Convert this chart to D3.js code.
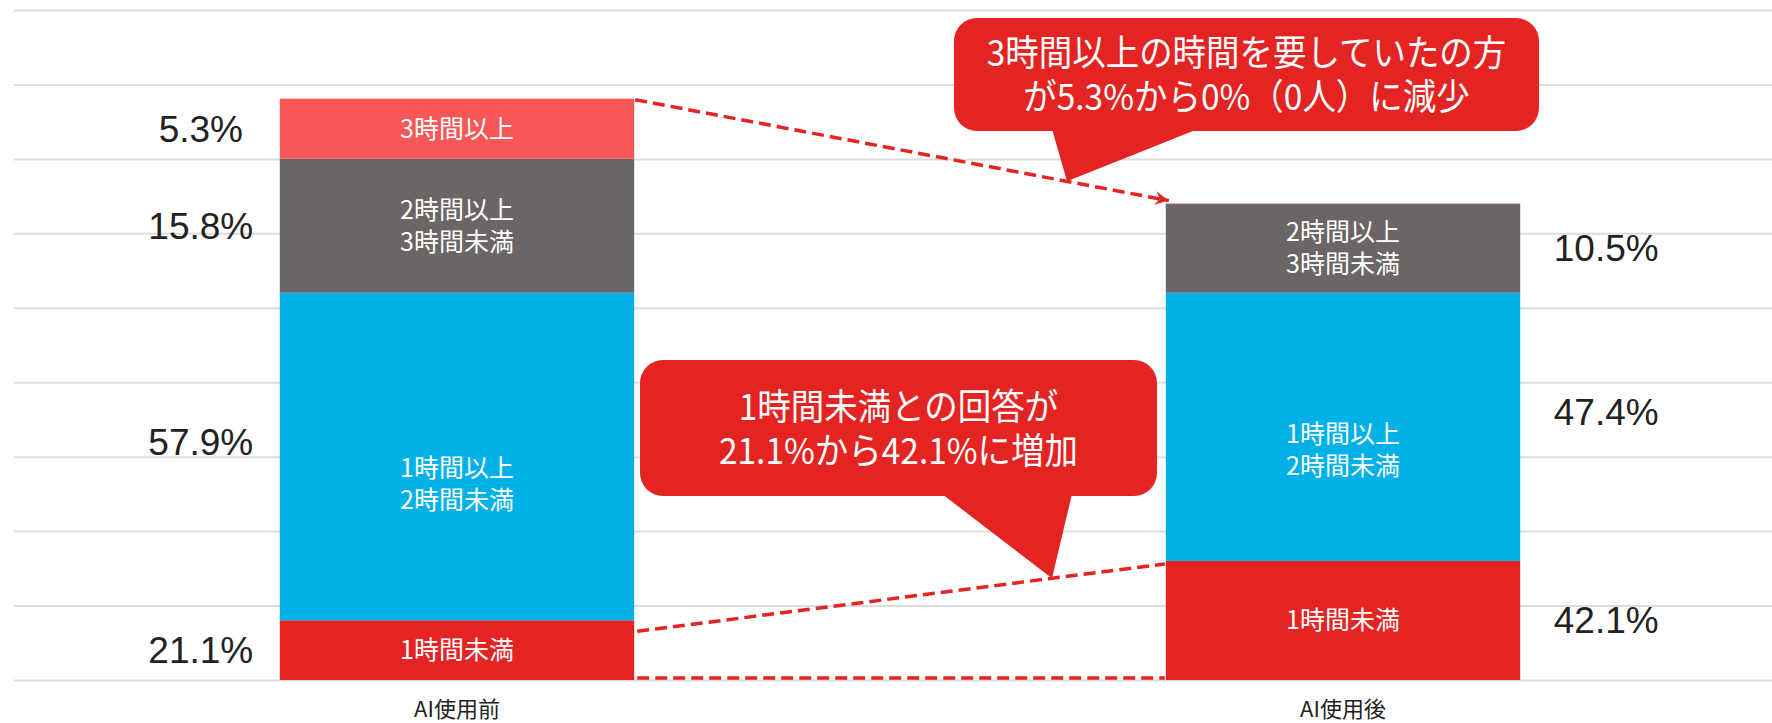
<!DOCTYPE html>
<html lang="ja">
<head>
<meta charset="utf-8">
<script src="https://cdn.jsdelivr.net/npm/d3@7"></script>
<style>
  html, body { margin: 0; padding: 0; background: #fff; }
  svg { display: block; }
</style>
</head>
<body>
<svg id="chart" width="1772" height="723"></svg>
<script>
// Time spent per task, before and after introducing AI.
// Bar segments show respondent-hours: share of respondents x hour band weight.
const periods = ['AI使用前', 'AI使用後'];
const bandLabels = ['1時間未満', '1時間以上\n2時間未満', '2時間以上\n3時間未満', '3時間以上'];
const hourWeights = [1, 2, 3, 4];
const shareBefore = [21.1, 57.9, 15.8, 5.3];
const shareAfter = [42.1, 47.4, 10.5, 0];
const respondents = 19;
const gridTicks = [0, 5, 10, 15, 20, 25, 30, 35, 40, 45];
const bandColors = ['#E42323', '#00B1E8', '#6B6665', '#F75757'];

const calloutTop = ['3時間以上の時間を要していたの方', 'が5.3%から0%（0人）に減少'];
const calloutBottom = ['1時間未満との回答が', '21.1%から42.1%に増加'];

const W = 1772, H = 723;
const svg = d3.select('#chart');
const CJK = '"Noto Sans CJK JP", "Noto Sans", sans-serif';
const LATIN = '"Liberation Sans", Arial, sans-serif';
const RED = '#E42323';

const x = d3.scaleBand().domain(periods).range([14, 1786]).paddingInner(0.6).paddingOuter(0.3);
const y = d3.scaleLinear().domain([0, 45]).range([680, 10]);

// horizontal gridlines
const grid = svg.append('g').attr('transform', 'translate(14,0)')
  .call(d3.axisLeft(y).tickValues(gridTicks).tickSize(-(W - 14)).tickFormat(''));
grid.select('.domain').remove();
grid.selectAll('.tick line').attr('stroke', '#dcdcdc').attr('stroke-width', 2);

// stacked segments
const shares = [shareBefore, shareAfter];
const segments = [];
periods.forEach((p, pi) => {
  let acc = 0;
  shares[pi].forEach((s, bi) => {
    const v = s / 100 * respondents * hourWeights[bi];
    segments.push({ period: pi, band: bi, share: s, y0: acc, y1: acc + v });
    acc += v;
  });
});
const drawn = segments.filter(d => d.share > 0);

svg.append('g').selectAll('rect').data(drawn).join('rect')
  .attr('x', d => x(periods[d.period]))
  .attr('width', x.bandwidth())
  .attr('y', d => y(d.y1))
  .attr('height', d => y(d.y0) - y(d.y1))
  .attr('fill', d => bandColors[d.band]);

// band names inside segments (the tall 1-2h block carries its name a little low)
const inLabels = svg.append('g').attr('font-family', CJK).attr('font-size', 25)
  .attr('fill', '#fff').attr('text-anchor', 'middle');
drawn.forEach(d => {
  const lines = bandLabels[d.band].split('\n');
  const h = y(d.y0) - y(d.y1);
  const cy = (y(d.y0) + y(d.y1)) / 2 + (d.band === 1 ? h * 0.085 : 0);
  const lh = 32;
  const t = inLabels.append('text');
  lines.forEach((ln, i) => {
    t.append('tspan')
      .attr('x', x(periods[d.period]) + x.bandwidth() / 2)
      .attr('y', cy + 9 + (i - (lines.length - 1) / 2) * lh)
      .text(ln);
  });
});

// share labels beside the bars
svg.append('g').attr('font-family', LATIN).attr('font-size', 37).attr('fill', '#222')
  .attr('text-anchor', 'middle')
  .selectAll('text').data(drawn).join('text')
  .attr('x', d => d.period === 0 ? x(periods[0]) - 79 : x(periods[1]) + x.bandwidth() + 86)
  .attr('y', d => (y(d.y0) + y(d.y1)) / 2 + 13 - (d.band === 1 ? 15 : 0))
  .text(d => d.share.toFixed(1) + '%');

// category axis
const xa = svg.append('g').attr('transform', 'translate(0,680)')
  .call(d3.axisBottom(x).tickSize(0));
xa.select('.domain').remove();
xa.selectAll('text').attr('font-family', CJK).attr('font-size', 22).attr('fill', '#222')
  .attr('dy', null).attr('y', 37);

// connector lines between the bars
const seg = (p, b) => segments.find(d => d.period === p && d.band === b);
const xl = x(periods[0]) + x.bandwidth() + 1;
const xr = x(periods[1]) - 1;

svg.append('defs').append('marker')
  .attr('id', 'arrow').attr('viewBox', '-14 -8 16 16')
  .attr('refX', 0).attr('refY', 0)
  .attr('markerWidth', 16).attr('markerHeight', 16)
  .attr('markerUnits', 'userSpaceOnUse').attr('orient', 'auto')
  .append('path').attr('d', 'M0,0 L-14,-7 L-9,0 L-14,7 Z').attr('fill', RED);

const dash = svg.append('g').attr('stroke', RED).attr('stroke-width', 3.5)
  .attr('stroke-dasharray', '12 6').attr('fill', 'none');

const topA = [xl, y(seg(0, 3).y1) + 1];
const topB = [xr + 4, y(seg(1, 3).y0) - 3];
dash.append('line')
  .attr('x1', topA[0]).attr('y1', topA[1])
  .attr('x2', topB[0]).attr('y2', topB[1])
  .attr('marker-end', 'url(#arrow)');

const midA = [xl + 2, y(seg(0, 0).y1) + 11];
const midB = [xr, y(seg(1, 0).y1) + 3];
dash.append('line')
  .attr('x1', midA[0]).attr('y1', midA[1])
  .attr('x2', midB[0]).attr('y2', midB[1]);

dash.append('line')
  .attr('x1', xl + 2).attr('y1', y(0) - 2)
  .attr('x2', xr).attr('y2', y(0) - 2);

// speech-bubble annotations
function lerpY(a, b, px) { return a[1] + (b[1] - a[1]) * (px - a[0]) / (b[0] - a[0]); }

function callout(box, tailBase, tipX, lineA, lineB, lines, baselines) {
  const g = svg.append('g');
  const tip = [tipX, lerpY(lineA, lineB, tipX)];
  g.append('rect')
    .attr('x', box.x0).attr('y', box.y0)
    .attr('width', box.x1 - box.x0).attr('height', box.y1 - box.y0)
    .attr('rx', 23).attr('fill', RED);
  g.append('path')
    .attr('d', `M${tailBase[0]},${box.y1 - 2} L${tip[0]},${tip[1]} L${tailBase[1]},${box.y1 - 2} Z`)
    .attr('fill', RED);
  // slightly condensed lettering
  const t = g.append('g')
    .attr('transform', `translate(${(box.x0 + box.x1) / 2},0) scale(0.93,1)`)
    .append('text').attr('font-family', CJK).attr('font-size', 36)
    .attr('fill', '#fff').attr('text-anchor', 'middle');
  lines.forEach((ln, i) => {
    t.append('tspan').attr('x', 0).attr('y', baselines[i]).text(ln);
  });
}

callout({ x0: 954, x1: 1539, y0: 18, y1: 131 }, [1052, 1198], 1067, topA, topB,
  calloutTop, [66, 110]);
callout({ x0: 640, x1: 1157, y0: 360, y1: 496 }, [942, 1072], 1052, midA, midB,
  calloutBottom, [420, 464]);
</script>
</body>
</html>
